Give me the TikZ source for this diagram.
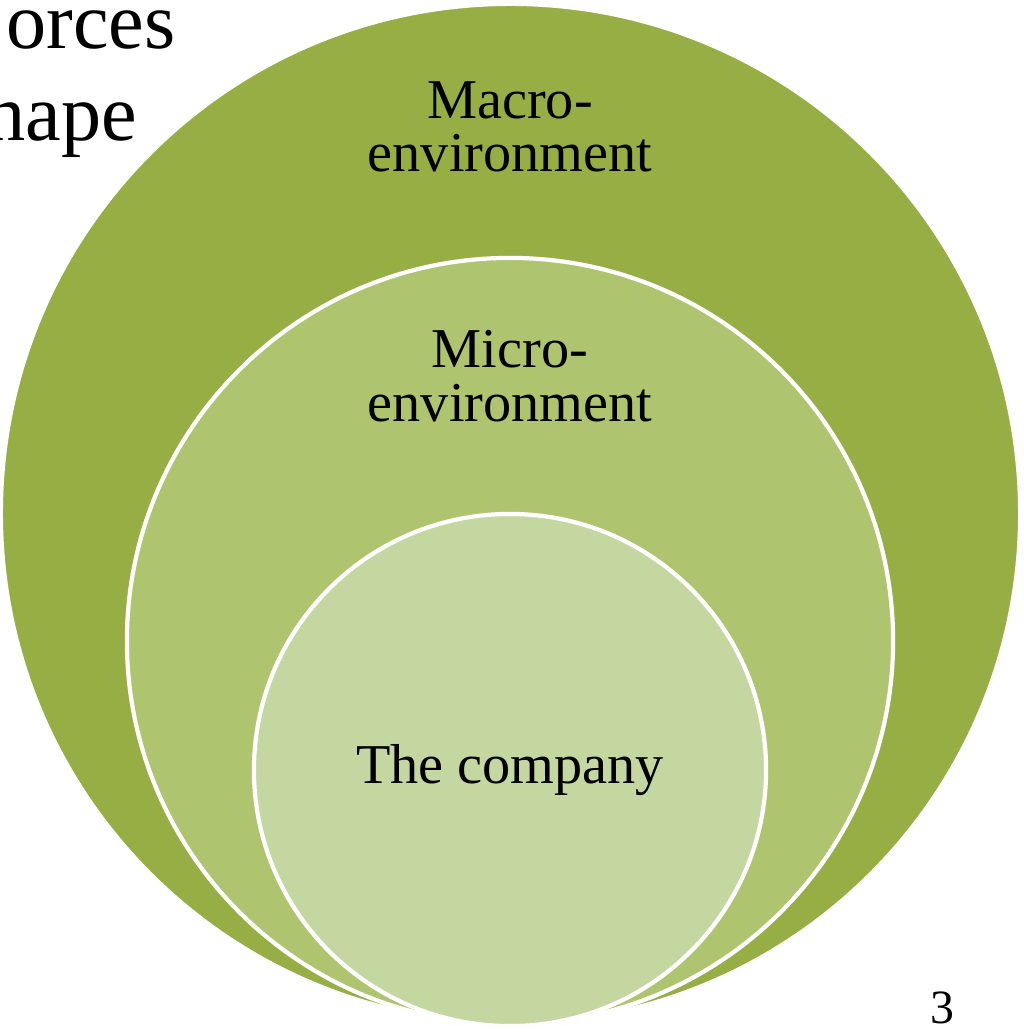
\documentclass[tikz,border=0pt]{standalone}
\usepackage{fontspec}
\setmainfont{Liberation Serif}
\definecolor{gmac}{RGB}{150,174,68}
\definecolor{gmic}{RGB}{175,196,110}
\definecolor{gcom}{RGB}{197,215,160}
\tikzset{ring/.style={circle,draw=white,line width=3pt,inner sep=0pt},
 lbl/.style={align=center,font=\fontsize{40}{38}\selectfont,inner sep=0pt},
 ttl/.style={font=\fontsize{57}{60}\selectfont,inner sep=0pt,anchor=base east}}

\begin{document}
\begin{tikzpicture}[x=0.025cm,y=-0.025cm]
\useasboundingbox (0,0) rectangle (1024,1032);
\clip (0,0) rectangle (1024,1032);
% nested circles, all touching at the bottom
\node[ring,fill=gmac,minimum size=25.475cm] (macro) at (510.5,513.5) {};
\node[ring,fill=gmic,minimum size=19.15cm] (micro) at (510,641) {};
\node[ring,fill=gcom,minimum size=12.8cm,lbl] (company) at (510,770) {The company};
\node[lbl] (macrotxt) at (510,127) {Macro-\\environment};
\node[lbl] (microtxt) at (510,376) {Micro-\\environment};
% slide title, cut off at the left edge
\node[ttl] (forces) at (176,48) {orces};
\node[ttl] (shape) at (137,140) {hape};
\node[font=\fontsize{34}{40}\selectfont,anchor=base,inner sep=0pt] (page) at (942,1023) {3};
\end{tikzpicture}
\end{document}
